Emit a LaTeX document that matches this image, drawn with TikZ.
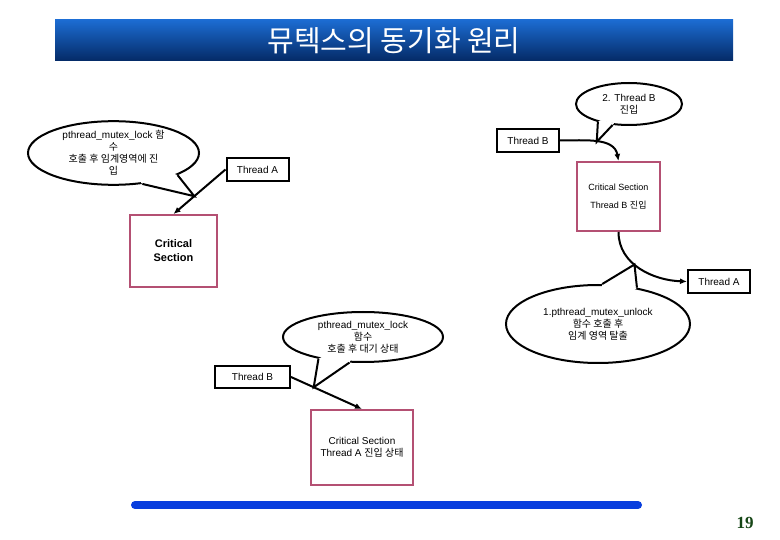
\documentclass[tikz,border=0pt]{standalone}
\usepackage{fontspec}
\setmainfont{Liberation Sans}
\newfontfamily\krfont{Noto Sans CJK KR}
\newfontfamily\numfont{Liberation Serif}
\usetikzlibrary{arrows.meta,shapes.geometric,calc}
\definecolor{TitleTop}{RGB}{28,108,210}
\definecolor{TitleBot}{RGB}{4,42,102}
\definecolor{Rose}{RGB}{180,80,115}
\definecolor{Rule}{RGB}{8,62,222}
\definecolor{PageNo}{RGB}{22,70,22}

\begin{document}
\begin{tikzpicture}[x=1pt,y=1pt,
  thread/.style={draw,line width=2pt,minimum width=62pt,minimum height=23pt,inner sep=0pt,font=\fontsize{10}{12}\selectfont},
  crit/.style={draw=Rose,line width=2pt,align=center,inner sep=0pt},
  bubble/.style={ellipse,draw,fill=white,line width=2pt,inner sep=0pt,align=center,font=\fontsize{10}{12}\selectfont},
  arr/.style={-{Latex[length=7pt,width=6pt]},line width=2pt},
  tail/.style={line width=2pt,line join=miter}]
\useasboundingbox (0,0) rectangle (780,-540);
% title bar
\node[minimum width=678pt,minimum height=41pt,top color=TitleTop,bottom color=TitleBot,text=white,
  font=\krfont\fontsize{29}{30}\selectfont] (title) at (394,-40.5) {뮤텍스의 동기화 원리};
% threads and critical sections
\node[thread] (thA1) at (257.5,-169.5) {Thread A};
\node[crit,minimum width=87pt,minimum height=72pt,font=\bfseries\fontsize{11}{14}\selectfont] (cs1) at (173.5,-251) {Critical\\Section};
\node[thread] (thB1) at (528,-140.5) {Thread B};
\node[crit,minimum width=83pt,minimum height=69pt,font=\fontsize{9}{18}\selectfont] (cs2) at (618.5,-196.5) {Critical Section\\Thread B {\krfont 진입}};
\node[thread] (thA2) at (719,-281.5) {Thread A};
\node[thread,minimum width=75pt,minimum height=22pt] (thB2) at (252.5,-377) {Thread B};
\node[crit,minimum width=102pt,minimum height=75pt,font=\fontsize{10}{12}\selectfont] (cs3) at (362,-447.5) {Critical Section\\Thread A {\krfont 진입 상태}};
% arrows
\draw[arr] (thA1.west) -- coordinate[pos=.6] (tip1) (cs1.north);
\draw[arr] (thB1.east) to[out=0,in=100] coordinate[pos=.5] (tip2) (cs2.north);
\draw[arr] (cs2.south) to[out=-90,in=178] coordinate[pos=.42] (tip3) (thA2.west);
\draw[arr] (thB2.east) -- coordinate[pos=.32] (tip4) (cs3.north);
% callouts
\node[bubble,minimum width=171pt,minimum height=60pt] (c1) at (113.5,-153)
  {pthread\_mutex\_lock {\krfont 함}\\{\krfont 수}\\{\krfont 호출 후 임계영역에 진}\\{\krfont 입}};
\fill[white] (c1.-19) -- (tip1) -- (c1.-47) -- ($(c1.center)!.9!(c1.-47)$) -- ($(c1.center)!.9!(c1.-19)$) -- cycle;
\draw[tail] (c1.-19) -- (tip1) -- (c1.-47);

\node[bubble,minimum width=106pt,minimum height=42pt] (c2) at (629,-104) {2. Thread B\\{\krfont 진입}};
\fill[white] (c2.-150) -- (tip2) -- (c2.-128) -- ($(c2.center)!.9!(c2.-128)$) -- ($(c2.center)!.9!(c2.-150)$) -- cycle;
\draw[tail] (c2.-150) -- (tip2) -- (c2.-128);

\node[bubble,minimum width=184pt,minimum height=78pt] (c3) at (598,-324)
  {1.pthread\_mutex\_unlock\\{\krfont 함수 호출 후}\\{\krfont 임계 영역 탈출}};
\fill[white] (c3.84) -- (tip3) -- (c3.43) -- ($(c3.center)!.9!(c3.43)$) -- ($(c3.center)!.9!(c3.84)$) -- cycle;
\draw[tail] (c3.84) -- (tip3) -- (c3.43);

\node[bubble,minimum width=160pt,minimum height=50pt] (c4) at (363,-337)
  {pthread\_mutex\_lock\\{\krfont 함수}\\{\krfont 호출 후 대기 상태}};
\fill[white] (c4.-154) -- (tip4) -- (c4.-118) -- ($(c4.center)!.9!(c4.-118)$) -- ($(c4.center)!.9!(c4.-154)$) -- cycle;
\draw[tail] (c4.-154) -- (tip4) -- (c4.-118);
% footer
\draw[Rule,line width=8pt,line cap=round] (135,-505) -- (638,-505);
\node[text=PageNo,font=\numfont\bfseries\fontsize{17}{17}\selectfont] (pageno) at (745,-523) {19};
\end{tikzpicture}
\end{document}
